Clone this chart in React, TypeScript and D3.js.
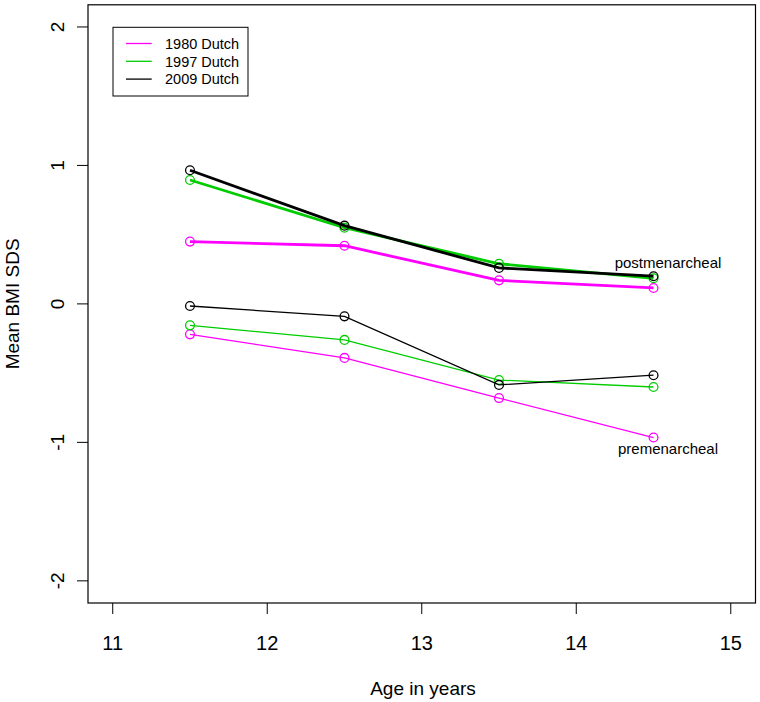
import React from "react";
import * as d3 from "d3";

const ages = [11.5, 12.5, 13.5, 14.5];
const seriesNames = ["1980 Dutch", "1997 Dutch", "2009 Dutch"];
const seriesColors = ["#FF00FF", "#00CD00", "#000000"];
const post1980 = [0.45, 0.42, 0.17, 0.115];
const post1997 = [0.895, 0.55, 0.29, 0.185];
const post2009 = [0.965, 0.565, 0.26, 0.2];
const pre1980 = [-0.22, -0.39, -0.68, -0.965];
const pre1997 = [-0.155, -0.26, -0.55, -0.6];
const pre2009 = [-0.015, -0.09, -0.585, -0.515];
const xTicks = [11, 12, 13, 14, 15];
const yTicks = [-2, -1, 0, 1, 2];

const W = 760, H = 702;
const L = 88, R = 755.5, T = 4.8, B = 603;

export default function App() {
  const x = d3.scaleLinear().domain([11 - 0.16, 15 + 0.16]).range([L, R]);
  const y = d3.scaleLinear().domain([-2.16, 2.16]).range([B, T]);
  const line = d3.line<number>().x((_, i) => x(ages[i])).y((v) => y(v));
  const post = [post1980, post1997, post2009];
  const pre = [pre1980, pre1997, pre2009];
  const font = "'Liberation Sans', Arial, sans-serif";
  return (
    <svg width={W} height={H} style={{ position: "absolute", left: 0, top: 0, background: "#fff" }} fontFamily={font}>
      <rect x={L} y={T} width={R - L} height={B - T} fill="none" stroke="#000" strokeWidth={1.2} />
      {xTicks.map((t) => (
        <g key={"x" + t}>
          <line x1={x(t)} x2={x(t)} y1={B} y2={B + 11} stroke="#000" strokeWidth={1} />
          <text x={x(t)} y={650} fontSize={20} textAnchor="middle">{t}</text>
        </g>
      ))}
      {yTicks.map((t) => (
        <g key={"y" + t}>
          <line x1={L - 11} x2={L} y1={y(t)} y2={y(t)} stroke="#000" strokeWidth={1} />
          <text transform={`translate(64,${y(t)}) rotate(-90)`} fontSize={19} textAnchor="middle">{t}</text>
        </g>
      ))}
      <text x={423} y={695} fontSize={19} textAnchor="middle">Age in years</text>
      <text transform={`translate(19,${y(0)}) rotate(-90)`} fontSize={19} textAnchor="middle">Mean BMI SDS</text>
      {pre.map((s, i) => (
        <g key={"pre" + i}>
          <path d={line(s) || ""} fill="none" stroke={seriesColors[i]} strokeWidth={1.3} />
          {s.map((v, j) => (
            <circle key={j} cx={x(ages[j])} cy={y(v)} r={4.4} fill="none" stroke={seriesColors[i]} strokeWidth={1.3} />
          ))}
        </g>
      ))}
      {post.map((s, i) => (
        <g key={"post" + i}>
          <path d={line(s) || ""} fill="none" stroke={seriesColors[i]} strokeWidth={2.8} />
          {s.map((v, j) => (
            <circle key={j} cx={x(ages[j])} cy={y(v)} r={4.4} fill="none" stroke={seriesColors[i]} strokeWidth={1.3} />
          ))}
        </g>
      ))}
      <text x={668} y={268} fontSize={15} textAnchor="middle">postmenarcheal</text>
      <text x={668} y={454} fontSize={15} textAnchor="middle">premenarcheal</text>
      <rect x={113} y={27.3} width={135} height={68.7} fill="#fff" stroke="#000" strokeWidth={1} />
      {seriesNames.map((n, i) => (
        <g key={n}>
          <line x1={126} x2={151.7} y1={43.5 + i * 17.8} y2={43.5 + i * 17.8} stroke={seriesColors[i]} strokeWidth={1.3} />
          <text x={165} y={48.7 + i * 17.8} fontSize={14.5}>{n}</text>
        </g>
      ))}
    </svg>
  );
}
